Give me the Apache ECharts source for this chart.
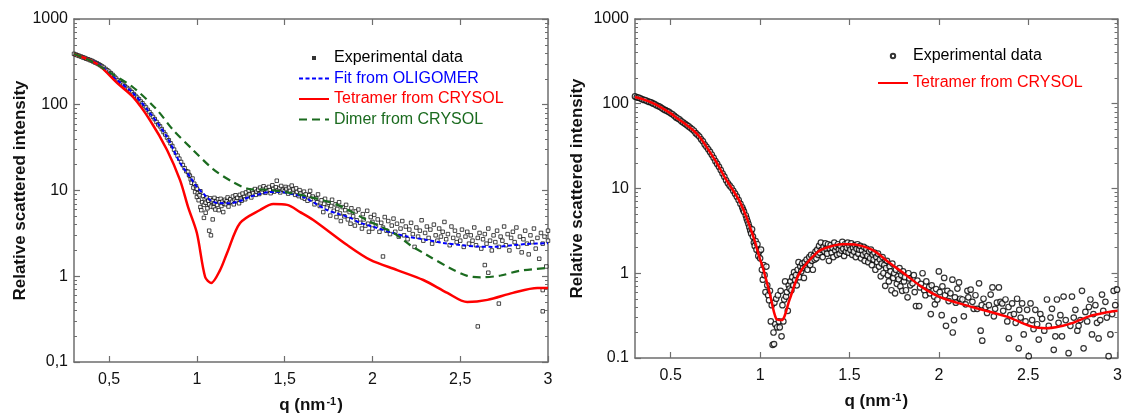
<!DOCTYPE html>
<html>
<head>
<meta charset="UTF-8">
<title>SAXS curves</title>
<script src="https://cdn.jsdelivr.net/npm/echarts@6/dist/echarts.min.js"></script>
<style>
  html, body { margin: 0; padding: 0; background: #fff; }
  #main { width: 1125px; height: 420px; }
</style>
</head>
<body>
<div id="main"></div>
<script>
// ---- data ----
var qTicks = [0.5, 1, 1.5, 2, 2.5, 3];
var decades = [0.1, 1, 10, 100];
var minorMant = [2, 3, 4, 5, 6, 7, 8, 9];

// left panel
var leftExp = [
  [0.30,392],[0.31,385],[0.32,377],[0.33,371],[0.34,365],[0.35,357],[0.36,352],[0.37,344],[0.38,339],[0.39,332],
  [0.40,327],[0.41,319],[0.42,311],[0.43,305],[0.44,297],[0.45,289],[0.46,280],[0.47,271],[0.48,261],[0.49,252],
  [0.50,243],[0.51,233],[0.52,223],[0.53,212],[0.54,202],[0.55,192],[0.56,185],[0.57,178],[0.58,171],[0.59,164],
  [0.60,158],[0.61,153],[0.62,146],[0.63,140],[0.64,133],[0.65,127],[0.66,121],[0.67,116],[0.68,109],[0.69,104],
  [0.70,98],[0.71,93],[0.72,87],[0.73,82],[0.74,77],[0.75,72],[0.76,68],[0.77,63],[0.78,59],[0.79,56],
  [0.80,52],[0.81,48],[0.82,45],[0.83,41.5],[0.84,38.5],[0.85,35.5],[0.86,33],[0.87,30],[0.88,27.5],[0.89,25.5],
  [0.90,23.5],[0.91,21.5],[0.92,19.8],[0.93,18.2],[0.94,16.8],
  [0.95,16.5],[0.955,15.2],[0.96,14.8],[0.965,13.5],[0.97,12.3],[0.975,13.8],[0.98,10.8],[0.985,12.0],[0.99,9.6],[0.995,11.2],
  [1.0,8.4],[1.0,10.5],[1.005,9.3],[1.01,7.7],[1.015,8.8],[1.02,6.4],[1.02,9.8],[1.025,5.9],[1.03,7.3],[1.035,8.6],
  [1.04,4.8],[1.04,6.8],[1.045,7.9],[1.05,5.5],[1.05,7.2],[1.055,8.3],[1.06,6.2],[1.065,7.6],[1.07,3.4],[1.07,6.9],
  [1.075,8.1],[1.08,3.0],[1.08,6.5],[1.085,7.4],[1.09,4.6],[1.09,7.7],[1.095,6.4],[1.1,7.1],[1.1,8.2],[1.105,6.0],
  [1.11,7.5],[1.115,6.8],[1.12,7.9],[1.125,5.9],[1.13,7.3],[1.135,8.0],[1.14,6.6],[1.145,7.4],[1.15,5.6],[1.155,7.0],
  [1.16,7.8],[1.165,6.9],[1.17,7.5],[1.175,8.3],[1.18,6.5],[1.185,7.2],[1.19,7.9],[1.2,7.4],[1.205,8.5],[1.21,6.9],
  [1.215,7.8],[1.22,8.8],[1.225,7.5],[1.23,8.2],[1.24,7.1],[1.245,8.9],[1.25,8.0],[1.255,7.6],[1.26,9.2],[1.27,8.4],
  [1.275,7.9],[1.28,9.5],[1.29,8.7],[1.295,10.0],[1.3,9.0],[1.31,8.3],[1.315,9.8],[1.32,9.3],[1.33,10.4],[1.335,8.9],
  [1.34,9.7],[1.35,10.2],[1.355,9.1],[1.36,10.8],[1.37,9.6],[1.375,10.3],[1.38,11.2],[1.39,9.4],[1.395,10.6],[1.4,9.9],
  [1.41,11.0],[1.415,10.1],[1.42,9.3],[1.43,11.5],[1.435,10.4],[1.44,9.7],[1.45,10.9],[1.455,13.0],[1.46,10.0],[1.47,10.7],
  [1.475,9.5],[1.48,11.3],[1.49,10.2],[1.5,9.8],[1.505,11.0],[1.51,10.4],[1.52,9.2],[1.525,10.8],[1.53,9.9],[1.54,11.4],
  [1.545,9.4],[1.55,10.3],[1.56,8.9],[1.565,10.6],[1.57,9.6],[1.58,8.6],[1.585,10.1],[1.59,9.2],[1.6,8.3],[1.61,9.7],
  [1.615,8.0],[1.62,9.0],[1.63,7.6],[1.64,8.8],[1.645,9.9],[1.65,7.9],[1.66,8.5],[1.67,6.9],[1.68,8.1],[1.685,7.3],
  [1.69,9.0],[1.7,6.6],[1.71,7.7],[1.72,5.6],[1.725,7.0],[1.73,8.0],[1.74,6.3],[1.75,7.2],[1.76,5.1],[1.765,6.6],
  [1.77,7.8],[1.78,5.8],[1.79,6.9],[1.795,4.9],[1.8,6.1],[1.81,7.3],[1.815,5.4],[1.82,4.4],[1.83,6.4],[1.84,5.0],
  [1.845,5.9],[1.85,6.8],[1.86,4.6],[1.87,5.6],[1.875,4.1],[1.88,6.2],[1.89,5.0],[1.9,3.9],[1.905,5.7],[1.91,4.5],
  [1.92,6.0],[1.93,4.2],[1.94,3.6],[1.945,5.3],[1.95,4.6],[1.96,3.9],[1.97,5.8],[1.975,4.1],[1.98,3.3],[1.99,4.9],
  [2.0,4.3],[2.0,3.6],[2.01,5.2],[2.02,3.9],[2.03,4.6],[2.04,3.3],[2.05,4.2],[2.06,1.7],[2.06,3.7],[2.07,4.9],
  [2.08,3.4],[2.09,4.4],[2.1,3.1],[2.11,3.9],[2.12,4.7],[2.13,3.3],[2.14,4.1],[2.15,2.9],[2.16,3.6],[2.17,4.4],
  [2.18,3.0],[2.19,3.8],[2.2,2.7],[2.21,3.5],[2.22,4.2],[2.23,3.1],[2.24,2.2],[2.25,3.7],[2.26,2.9],[2.27,3.4],
  [2.28,4.5],[2.29,2.6],[2.3,3.2],[2.31,3.8],[2.32,2.8],[2.33,3.5],[2.34,2.4],[2.35,4.0],[2.36,3.0],[2.37,2.6],
  [2.38,3.6],[2.39,2.9],[2.4,3.3],[2.41,4.3],[2.42,2.7],[2.43,3.1],[2.44,2.3],[2.45,3.8],[2.46,2.8],[2.47,3.4],
  [2.48,2.5],[2.49,3.0],[2.5,2.6],[2.51,3.5],[2.52,2.2],[2.53,2.9],[2.54,3.3],[2.55,2.4],[2.56,3.0],[2.57,2.6],
  [2.58,3.7],[2.59,2.3],[2.6,0.26],[2.6,2.8],[2.61,3.2],[2.62,2.1],[2.63,2.7],[2.64,1.35],[2.64,3.1],[2.65,2.4],
  [2.66,1.1],[2.66,3.6],[2.67,2.6],[2.68,2.0],[2.69,3.0],[2.7,2.5],[2.71,3.4],[2.72,0.48],[2.72,2.2],[2.73,2.9],
  [2.74,2.6],[2.75,3.8],[2.76,2.3],[2.77,3.1],[2.78,2.0],[2.79,2.8],[2.8,3.3],[2.81,2.5],[2.82,3.7],[2.83,2.2],
  [2.84,2.9],[2.85,1.9],[2.86,2.7],[2.87,3.4],[2.88,2.4],[2.89,1.8],[2.9,3.0],[2.91,2.5],[2.92,3.6],[2.93,2.1],
  [2.94,2.8],[2.95,1.6],[2.96,3.2],[2.97,0.39],[2.97,0.69],[2.97,2.4],[2.98,2.9],[2.99,1.3],[3.0,3.4],[3.0,2.6]
];
var leftFit = [
  [0.3,390],[0.4,329],[0.448,291],[0.545,194],[0.636,137],[0.733,80],[0.83,42],[0.904,21],[0.961,14.4],[1.0,11],
  [1.035,9.3],[1.07,7.9],[1.115,7.15],[1.19,7.1],[1.25,7.6],[1.3,8.4],[1.36,9.1],[1.417,9.6],[1.474,9.6],[1.54,9.1],
  [1.606,8.4],[1.674,7.1],[1.742,5.9],[1.81,5.3],[1.874,4.8],[1.93,4.2],[2.0,3.8],[2.119,3.19],[2.2,2.9],[2.31,2.65],
  [2.4,2.45],[2.5,2.31],[2.6,2.22],[2.69,2.2],[2.8,2.3],[2.88,2.38],[3.0,2.43]
];
var leftTetramer = [
  [0.3,391],[0.4,325],[0.45,280],[0.545,180],[0.636,123],[0.733,66],[0.83,29.7],[0.904,13.2],[0.95,6.4],[1.0,3.19],
  [1.047,0.98],[1.081,0.834],[1.132,1.18],[1.172,1.87],[1.246,4.18],[1.36,5.93],[1.435,6.96],[1.514,6.8],[1.588,5.6],
  [1.663,4.53],[1.856,2.31],[1.988,1.55],[2.141,1.18],[2.29,0.904],[2.427,0.638],[2.54,0.5],[2.655,0.53],[2.8,0.64],
  [2.94,0.73],[3.0,0.73]
];
var leftDimer = [
  [0.3,390],[0.4,322],[0.5,240],[0.636,160],[0.773,87],[0.864,51],[0.978,29.7],[1.092,17.8],[1.206,12.5],[1.3,10.4],
  [1.4,10.2],[1.5,9.6],[1.645,8.4],[1.8,6.8],[1.97,4.5],[2.12,3.2],[2.216,2.3],[2.31,1.77],[2.44,1.25],[2.54,1.01],
  [2.615,0.97],[2.73,1.02],[2.84,1.16],[3.0,1.25]
];

// right panel
var rightExp = [
  [0.30,122],[0.31,119],[0.32,118],[0.33,116],[0.34,113],[0.35,111],[0.36,110],[0.37,107],[0.38,105],[0.39,104],
  [0.40,101],[0.41,99],[0.42,96],[0.43,94],[0.44,92],[0.45,89],[0.46,86],[0.47,84],[0.48,82],[0.49,80],
  [0.50,77],[0.51,75],[0.52,72],[0.53,69],[0.54,67],[0.55,65],[0.56,62],[0.57,60],[0.58,58],[0.59,56],
  [0.60,54],[0.61,52],[0.62,50],[0.63,48],[0.64,45],[0.65,43],[0.66,41],[0.67,38],[0.68,36],[0.69,33],
  [0.70,31],[0.71,29],[0.72,27],[0.73,25],[0.74,23],[0.75,21],[0.76,19.5],[0.77,18],[0.78,16.5],[0.79,15],
  [0.80,13.8],[0.81,12.5],[0.82,11.5],[0.83,10.8],[0.84,10.2],[0.85,9.4],[0.86,8.7],[0.87,8.0],[0.88,7.3],[0.89,6.6],
  [0.90,6.0],[0.905,5.6],[0.91,5.3],[0.92,4.8],[0.925,4.4],[0.93,4.1],[0.935,3.8],[0.94,3.5],[0.945,3.2],[0.95,2.95],
  [0.955,3.3],[0.96,2.7],[0.965,2.3],[0.97,2.1],[0.975,2.4],[0.98,1.9],[0.985,2.2],[0.99,1.6],[0.995,1.8],
  [1.0,1.5],[1.005,1.9],[1.01,1.1],[1.015,0.84],[1.02,1.25],[1.025,0.95],[1.03,0.6],[1.035,1.2],[1.04,0.72],[1.045,0.55],
  [1.05,0.48],[1.055,0.62],[1.06,0.27],[1.065,0.42],[1.07,0.143],[1.075,0.2],[1.078,0.146],[1.08,0.45],[1.085,0.25],[1.09,0.5],
  [1.095,0.23],[1.1,0.55],[1.105,0.27],[1.11,0.23],[1.115,0.62],[1.12,0.18],[1.125,0.42],[1.13,0.27],[1.135,0.49],[1.14,0.8],
  [1.145,0.53],[1.15,0.6],[1.155,0.36],[1.16,0.72],[1.165,0.66],[1.17,0.8],[1.175,0.63],[1.18,0.9],[1.185,0.72],[1.19,1.03],
  [1.195,0.83],[1.2,0.95],[1.205,0.72],[1.21,1.1],[1.215,1.35],[1.22,0.9],[1.225,1.2],[1.23,1.05],[1.235,1.3],[1.24,1.15],
  [1.245,0.88],[1.25,1.35],[1.255,1.2],[1.26,1.45],[1.265,1.1],[1.27,1.3],[1.275,1.55],[1.28,1.25],[1.285,1.65],[1.29,1.4],
  [1.295,1.1],[1.3,1.6],[1.305,1.45],[1.31,1.8],[1.315,1.5],[1.32,1.9],[1.325,1.65],[1.33,2.1],[1.335,1.75],[1.34,2.3],
  [1.345,1.9],[1.35,1.55],[1.355,2.05],[1.36,1.8],[1.365,2.25],[1.37,1.95],[1.375,1.7],[1.38,2.2],[1.385,1.4],[1.39,1.95],
  [1.395,2.15],[1.4,1.75],[1.405,2.0],[1.41,1.55],[1.415,2.3],[1.42,1.85],[1.425,2.05],[1.43,1.65],[1.435,2.2],[1.44,1.9],
  [1.445,1.7],[1.45,2.1],[1.455,1.85],[1.46,2.35],[1.465,1.95],[1.47,1.6],[1.475,2.2],[1.48,1.8],[1.485,2.0],[1.49,2.3],
  [1.495,1.75],[1.5,2.1],[1.505,1.9],[1.51,2.25],[1.515,1.65],[1.52,2.0],[1.525,1.8],[1.53,2.15],[1.535,1.55],[1.54,1.95],
  [1.545,2.2],[1.55,1.7],[1.555,1.9],[1.56,2.1],[1.565,1.5],[1.57,1.85],[1.575,1.65],[1.58,2.05],[1.585,1.4],[1.59,1.75],
  [1.595,1.95],[1.6,1.6],[1.605,1.35],[1.61,1.8],[1.615,1.5],[1.62,1.9],[1.625,1.25],[1.63,1.65],[1.635,1.45],[1.64,1.75],
  [1.645,1.1],[1.65,1.55],[1.655,1.35],[1.66,1.7],[1.665,1.2],[1.67,1.45],[1.675,0.92],[1.68,1.3],[1.685,1.55],[1.69,1.0],
  [1.695,1.25],[1.7,0.71],[1.705,1.15],[1.71,1.4],[1.715,0.95],[1.72,0.8],[1.725,1.2],[1.73,1.05],[1.735,0.63],[1.74,1.3],
  [1.745,0.88],[1.75,1.0],[1.755,0.58],[1.76,1.1],[1.765,0.75],[1.77,0.92],
  [1.775,0.85],[1.78,1.15],[1.785,0.7],[1.79,0.95],[1.795,0.62],[1.8,1.05],[1.805,0.8],[1.81,0.9],[1.816,0.63],[1.825,0.52],
  [1.83,1.0],[1.835,0.87],[1.84,0.72],[1.853,0.76],[1.86,0.95],[1.865,0.6],[1.872,0.41],[1.88,0.82],[1.89,0.41],[1.895,0.68],
  [1.9,0.75],[1.909,1.0],[1.918,0.63],[1.925,0.55],[1.93,0.8],[1.946,0.69],[1.95,0.58],[1.955,0.33],[1.96,0.72],[1.974,0.53],
  [1.978,0.43],[1.985,0.65],[1.992,0.49],[2.0,1.05],[2.005,0.6],[2.016,0.32],[2.02,0.7],[2.03,0.88],[2.035,0.55],[2.04,0.24],
  [2.048,0.62],[2.055,0.47],[2.065,0.58],[2.076,0.84],[2.078,0.2],[2.085,0.28],[2.09,0.52],[2.095,0.45],[2.104,0.66],[2.113,0.78],
  [2.12,0.5],[2.132,0.49],[2.14,0.31],[2.15,0.43],[2.16,0.62],[2.165,0.52],[2.178,0.64],[2.188,0.46],[2.195,0.38],[2.205,0.55],
  [2.215,0.38],[2.225,0.76],[2.234,0.21],[2.24,0.42],[2.243,0.16],[2.25,0.5],[2.262,0.4],[2.27,0.34],[2.28,0.42],[2.29,0.56],
  [2.3,0.68],[2.308,0.31],[2.315,0.38],[2.325,0.45],[2.336,0.68],[2.345,0.46],[2.355,0.44],[2.36,0.36],[2.373,0.49],[2.383,0.27],
  [2.39,0.4],[2.392,0.17],[2.4,0.32],[2.41,0.44],[2.42,0.33],[2.43,0.26],[2.438,0.5],[2.447,0.13],[2.45,0.37],[2.458,0.3],
  [2.466,0.44],[2.475,0.19],[2.485,0.27],[2.494,0.37],[2.503,0.105],[2.513,0.44],[2.522,0.28],[2.53,0.22],[2.54,0.37],[2.55,0.25],
  [2.559,0.165],[2.568,0.33],[2.578,0.29],[2.59,0.21],[2.605,0.49],[2.615,0.24],[2.625,0.3],[2.633,0.38],[2.643,0.125],[2.652,0.18],
  [2.661,0.49],[2.67,0.26],[2.68,0.32],[2.689,0.18],[2.698,0.53],[2.71,0.28],[2.726,0.114],[2.736,0.24],[2.745,0.53],[2.755,0.3],
  [2.764,0.37],[2.775,0.21],[2.782,0.24],[2.792,0.28],[2.801,0.62],[2.81,0.13],[2.82,0.35],[2.83,0.27],[2.84,0.4],[2.848,0.49],
  [2.857,0.19],[2.865,0.33],[2.876,0.42],[2.885,0.26],[2.894,0.17],[2.903,0.28],[2.913,0.56],[2.92,0.36],[2.932,0.46],[2.94,0.3],
  [2.95,0.105],[2.96,0.19],[2.97,0.33],[2.978,0.62],[2.987,0.42],[2.997,0.64]
];
var rightTetramer = [
  [0.3,120],[0.35,112],[0.4,102],[0.44,92],[0.5,77],[0.534,68],[0.58,58],[0.624,49],[0.66,41],[0.7,31],
  [0.758,20],[0.8,13.8],[0.85,9.4],[0.886,7.0],[0.92,4.8],[0.95,3.2],[0.97,2.4],[1.0,1.45],[1.014,1.2],[1.053,0.59],
  [1.09,0.29],[1.12,0.28],[1.165,0.49],[1.22,1.0],[1.316,1.74],[1.37,2.0],[1.46,2.2],[1.5,2.2],[1.628,1.89],[1.723,1.33],
  [1.818,0.95],[1.9,0.7],[2.0,0.53],[2.1,0.45],[2.186,0.4],[2.376,0.31],[2.52,0.235],[2.6,0.225],[2.655,0.23],[2.75,0.26],
  [2.84,0.31],[2.92,0.34],[3.0,0.36]
];

// ---- styling ----
var FONT = '"Liberation Sans", Arial, Helvetica, sans-serif';
var AXC = '#6e6e6e';
var NOSYM = { color: 'rgba(0,0,0,0)', borderWidth: 0 };
var minorLog = [];
decades.forEach(function (d) {
  minorMant.forEach(function (m) { minorLog.push(Math.log10(m * d)); });
});

function fmt(v, comma) {
  var s = String(v);
  return comma ? s.replace('.', ',') : s;
}

function xAxes(g, comma) {
  var base = {
    gridIndex: g, type: 'value', min: 0.3, max: 3,
    axisLine: { onZero: false, lineStyle: { color: AXC, width: 1.5 } },
    axisTick: { inside: true, length: 6, customValues: qTicks, lineStyle: { color: AXC, width: 1.2 } },
    splitLine: { show: false }
  };
  var bottom = Object.assign({}, base, {
    position: 'bottom',
    axisLabel: {
      customValues: qTicks, margin: 10, color: '#111', fontSize: 16, fontFamily: FONT,
      formatter: function (v) { return fmt(v, comma); }
    },
    name: '{a|q (nm}{s|-1}{a|)}', nameLocation: 'middle', nameGap: 34,
    nameTextStyle: {
      rich: {
        a: { fontSize: 17, fontWeight: 'bold', color: '#111', fontFamily: FONT },
        s: { fontSize: 11, fontWeight: 'bold', color: '#111', fontFamily: FONT, verticalAlign: 'top', padding: [0, 1, 8, 1] }
      }
    }
  });
  var top = Object.assign({}, base, { position: 'top', axisLabel: { show: false } });
  return [bottom, top];
}

function yAxes(g, comma, gap) {
  var logBase = {
    gridIndex: g, type: 'log', logBase: 10, min: 0.1, max: 1000,
    axisLine: { onZero: false, lineStyle: { color: AXC, width: 1.5 } },
    axisTick: { inside: true, length: 6, lineStyle: { color: AXC, width: 1.2 } },
    splitLine: { show: false }
  };
  var minorBase = {
    gridIndex: g, type: 'value', min: -1, max: 3,
    axisLine: { show: false, onZero: false },
    axisTick: { inside: true, length: 3, customValues: minorLog, lineStyle: { color: AXC, width: 1 } },
    axisLabel: { show: false },
    splitLine: { show: false }
  };
  var left = Object.assign({}, logBase, {
    position: 'left',
    axisLabel: { margin: 6, color: '#111', fontSize: 16, fontFamily: FONT, formatter: function (v) { return fmt(v, comma); } },
    name: 'Relative scattered intensity', nameLocation: 'middle', nameGap: gap,
    nameTextStyle: { fontSize: 17, fontWeight: 'bold', color: '#111', fontFamily: FONT }
  });
  var leftMinor = Object.assign({}, minorBase, { position: 'left' });
  var right = Object.assign({}, logBase, { position: 'right', axisLabel: { show: false } });
  var rightMinor = Object.assign({}, minorBase, { position: 'right' });
  return [left, leftMinor, right, rightMinor];
}

var chart = echarts.init(document.getElementById('main'));

var option = {
  animation: false,
  backgroundColor: '#fff',
  grid: [
    { left: 74, top: 19, width: 474, height: 343 },
    { left: 635, top: 19, width: 484, height: 339 }
  ],
  xAxis: xAxes(0, true).concat(xAxes(1, false)),
  yAxis: yAxes(0, true, 42).concat(yAxes(1, false, 49)),
  legend: [
    {
      left: 293, top: 45, orient: 'vertical', itemWidth: 30, itemHeight: 14, itemGap: 4.5,
      selectedMode: false, textStyle: { fontSize: 16, fontFamily: FONT },
      data: [
        { name: 'Experimental data', icon: 'path://M0,0M30,14M14,6h2v2h-2z', textStyle: { color: '#000' } },
        { name: 'Fit from OLIGOMER', itemStyle: NOSYM, textStyle: { color: '#0000ff' } },
        { name: 'Tetramer from CRYSOL', itemStyle: NOSYM, textStyle: { color: '#ff0000' } },
        { name: 'Dimer from CRYSOL', itemStyle: NOSYM, textStyle: { color: '#1b6b1f' } }
      ]
    },
    {
      left: 872, top: 43, orient: 'vertical', itemWidth: 30, itemHeight: 14, itemGap: 11,
      selectedMode: false, textStyle: { fontSize: 16, fontFamily: FONT },
      data: [
        { name: 'Experimental data', icon: 'path://M0,0M30,14M17.2,7a2.2,2.2 0 1,1 -4.4,0a2.2,2.2 0 1,1 4.4,0z', textStyle: { color: '#000' } },
        { name: 'Tetramer from CRYSOL', itemStyle: NOSYM, textStyle: { color: '#ff0000' } }
      ]
    }
  ],
  series: [
    {
      name: 'Experimental data', type: 'scatter', xAxisIndex: 0, yAxisIndex: 0, data: leftExp,
      symbol: 'rect', symbolSize: 3.5, silent: true, z: 2,
      itemStyle: { color: '#fff', borderColor: '#000', borderWidth: 0.9 }
    },
    {
      name: 'Fit from OLIGOMER', type: 'line', xAxisIndex: 0, yAxisIndex: 0, data: leftFit,
      symbol: 'none', smooth: 0.3, color: '#0000ff', z: 3,
      lineStyle: { color: '#0000ff', width: 2, type: [4, 2.5] }
    },
    {
      name: 'Tetramer from CRYSOL', type: 'line', xAxisIndex: 0, yAxisIndex: 0, data: leftTetramer,
      symbol: 'none', smooth: 0.3, color: '#ff0000', z: 3,
      lineStyle: { color: '#ff0000', width: 2.5 }
    },
    {
      name: 'Dimer from CRYSOL', type: 'line', xAxisIndex: 0, yAxisIndex: 0, data: leftDimer,
      symbol: 'none', smooth: 0.3, color: '#1b6b1f', z: 3,
      lineStyle: { color: '#1b6b1f', width: 2.2, type: [8, 5] }
    },
    {
      name: 'Experimental data', type: 'scatter', xAxisIndex: 2, yAxisIndex: 4, data: rightExp,
      symbol: 'circle', symbolSize: 5.5, silent: true, z: 2,
      itemStyle: { color: '#fff', borderColor: '#000', borderWidth: 1.2 }
    },
    {
      name: 'Tetramer from CRYSOL', type: 'line', xAxisIndex: 2, yAxisIndex: 4, data: rightTetramer,
      symbol: 'none', smooth: 0.3, color: '#ff0000', z: 3,
      lineStyle: { color: '#ff0000', width: 2.5 }
    }
  ]
};

chart.setOption(option);
</script>
</body>
</html>
